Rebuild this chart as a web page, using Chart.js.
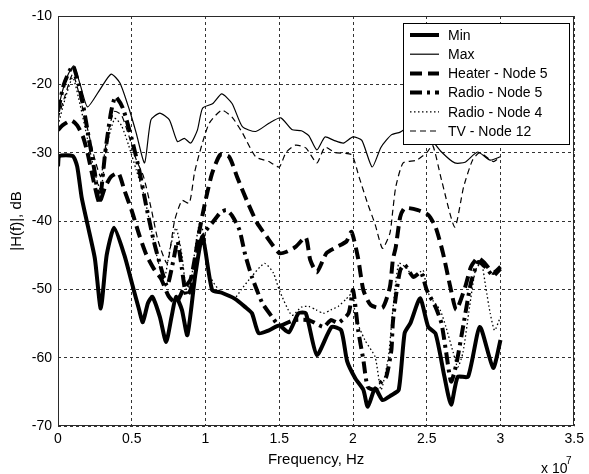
<!DOCTYPE html>
<html><head><meta charset="utf-8">
<script src="https://cdn.jsdelivr.net/npm/chart.js@4.4.1/dist/chart.umd.min.js"></script>
<style>html,body{margin:0;padding:0;background:#fff;}#wrap{width:589px;height:474px;}</style>
</head><body><div id="wrap"><canvas id="c" width="589" height="474"></canvas></div>
<script>
// Frequency in units of 10^7 Hz, magnitude in dB
const minF  = [0,0.01,0.1,0.13,0.16,0.2,0.25,0.29,0.33,0.38,0.45,0.5,0.55,0.575,0.61,0.64,0.69,0.733,0.77,0.8,0.84,0.877,0.93,0.98,1.045,1.11,1.2,1.27,1.315,1.36,1.43,1.5,1.565,1.63,1.68,1.755,1.855,1.92,1.96,2.015,2.07,2.1,2.15,2.2,2.26,2.31,2.35,2.39,2.455,2.51,2.56,2.62,2.665,2.71,2.78,2.86,2.95,3.0];
const minDb = [-32,-30.5,-30.5,-32,-36.5,-40.5,-45.5,-52.8,-45,-41,-45,-49,-53,-54.8,-52,-51.1,-54,-57.7,-54,-51.1,-53,-56.7,-48,-42.3,-50.1,-50.5,-51.4,-52.6,-53.5,-56.4,-56,-55.3,-56.3,-53.5,-53.5,-59.6,-55.5,-56,-60.5,-63,-64.7,-67.2,-64.5,-66.2,-65.5,-64.7,-56.4,-54.9,-51.3,-55.5,-56.5,-62.8,-66.9,-62.8,-62.8,-55.5,-61.5,-57.4];

const maxF  = [0,0.03,0.07,0.108,0.15,0.2,0.283,0.36,0.42,0.485,0.53,0.587,0.63,0.69,0.755,0.81,0.856,0.9,0.945,0.98,1.05,1.11,1.18,1.25,1.34,1.43,1.51,1.585,1.65,1.7,1.755,1.81,1.87,1.935,2.0,2.06,2.13,2.19,2.26,2.32,2.4,2.48,2.54,2.6,2.69,2.76,2.845,2.93,3.0];
const maxDb = [-23.8,-21,-18.5,-17.3,-20,-23.3,-20.8,-18.5,-19.8,-23.8,-27.1,-31.5,-25.2,-24.2,-25.2,-28.4,-27.9,-28.6,-26.7,-23.5,-22.8,-21.4,-22.8,-26.2,-26.9,-25.7,-24.9,-26.6,-26.8,-27.5,-29.6,-27.7,-28.2,-28.6,-27.7,-28.2,-32.1,-29.2,-27.4,-27,-26,-27,-28.3,-29.9,-31.5,-31.4,-29.9,-31.1,-30.6];

const heaterF  = [0,0.03,0.09,0.13,0.17,0.2,0.24,0.28,0.32,0.36,0.41,0.45,0.5,0.55,0.6,0.65,0.7,0.75,0.8,0.85,0.9,0.96,1.0,1.045,1.1,1.16,1.215,1.28,1.35,1.415,1.5,1.55,1.61,1.68,1.71,1.755,1.82,1.89,1.955,1.99,2.035,2.07,2.12,2.2,2.25,2.27,2.29,2.32,2.35,2.44,2.51,2.56,2.61,2.66,2.7,2.76,2.8,2.845,2.89,2.95,3.0];
const heaterDb = [-26.7,-26,-25.3,-26,-27.7,-30,-34,-37.3,-35,-33.5,-33,-35.5,-38.5,-42,-45,-47,-48.5,-51,-52,-50,-48.5,-41.3,-37,-33,-30.3,-30.6,-33.6,-37,-40.3,-42.3,-44.7,-44.5,-43.8,-42.4,-45.7,-47.5,-44.7,-43.8,-43,-41.6,-45.5,-50.1,-52.3,-52.7,-49.7,-45.7,-43.8,-39.4,-38.1,-38.4,-39.1,-40.9,-44.7,-49.7,-53,-49.7,-46.7,-45.4,-46.1,-47.6,-46.7];

const radio5F  = [0,0.04,0.1,0.14,0.17,0.21,0.25,0.28,0.32,0.36,0.39,0.44,0.5,0.55,0.6,0.65,0.7,0.74,0.78,0.81,0.84,0.87,0.9,0.95,1.0,1.045,1.1,1.14,1.18,1.23,1.27,1.315,1.385,1.45,1.5,1.6,1.7,1.8,1.85,1.9,1.97,2.0,2.035,2.07,2.1,2.15,2.185,2.225,2.26,2.27,2.29,2.32,2.35,2.41,2.46,2.5,2.56,2.6,2.63,2.665,2.7,2.75,2.8,2.85,2.9,2.95,3.0];
const radio5Db = [-24,-20,-17.3,-20,-23,-28,-33,-37.5,-30,-24,-21.8,-23.5,-28,-32.5,-38,-43,-47,-49.5,-46,-43,-47,-51,-50,-44,-41.5,-40.3,-38.8,-38.4,-39.2,-41.3,-45,-48.2,-52,-54,-55.3,-54.5,-54.5,-55.5,-54.5,-54.9,-53.5,-50.1,-56,-60.3,-64.3,-64.7,-63.7,-62.8,-58.9,-54.9,-51.1,-47.2,-46.4,-48.2,-47.5,-50.1,-52.6,-55,-59,-63.5,-61,-55,-49,-46,-46.8,-48,-47];

const radio4F  = [0,0.05,0.1,0.15,0.2,0.25,0.29,0.33,0.385,0.43,0.48,0.53,0.58,0.63,0.68,0.72,0.76,0.8,0.84,0.87,0.9,0.93,0.96,0.99,1.03,1.1,1.2,1.24,1.31,1.4,1.46,1.5,1.585,1.65,1.7,1.75,1.8,1.85,1.9,1.95,2.0,2.015,2.08,2.15,2.19,2.24,2.27,2.31,2.36,2.41,2.475,2.5,2.54,2.59,2.63,2.68,2.71,2.745,2.79,2.83,2.87,2.9,2.93,2.96,3.0];
const radio4Db = [-26,-22,-19,-23,-28,-33,-35.5,-29,-25,-26,-29,-32.5,-36,-41,-46,-48.5,-44,-41,-45,-50,-49,-44,-40.3,-42,-48,-50.3,-51.2,-50.1,-48.2,-46.2,-47.6,-50.1,-53.8,-52.6,-52.5,-53,-53.5,-53,-52.5,-51.5,-50.5,-54,-57.4,-59.9,-64.7,-59.9,-53,-46.2,-46.8,-48.2,-47.2,-50.1,-51.6,-53,-55.5,-59.3,-61.4,-59.3,-52.6,-47.2,-46.1,-49.7,-53.5,-56,-54];

const tvF  = [0,0.05,0.1,0.15,0.2,0.25,0.29,0.33,0.38,0.43,0.48,0.53,0.58,0.63,0.68,0.74,0.79,0.84,0.89,0.925,0.96,1.025,1.11,1.18,1.25,1.34,1.43,1.5,1.545,1.61,1.68,1.755,1.81,1.88,1.99,2.04,2.1,2.15,2.2,2.25,2.27,2.29,2.34,2.43,2.5,2.54,2.6,2.69,2.75,2.81,2.86,2.95,3.0];
const tvDb = [-25,-21.5,-18.5,-22,-26.5,-31,-33.5,-28,-24,-24.5,-27.5,-31,-33.5,-38,-43,-46.2,-40,-37,-37.4,-33,-30,-25.7,-23.8,-24.8,-27.1,-30.6,-31.3,-32.1,-30,-28.9,-29.3,-31.5,-29.2,-30,-30.3,-33.5,-37.5,-40.5,-44,-41.8,-38.4,-35,-31.5,-31.1,-30,-28.9,-34,-40.9,-35,-31.1,-30,-31.3,-30.6];

const seriesNames = ['Min','Max','Heater - Node 5','Radio - Node 5','Radio - Node 4','TV - Node 12'];
const xTickValues = [0,0.5,1,1.5,2,2.5,3,3.5];
const xTickLabels = ['0','0.5','1','1.5','2','2.5','3','3.5'];
const yTickValues = [-70,-60,-50,-40,-30,-20,-10];
const yTickLabels = ['-70','-60','-50','-40','-30','-20','-10'];
const xAxisTitle = 'Frequency, Hz';
const yAxisTitle = '|H(f)|, dB';
const xExpBase = 'x 10';
const xExpPow = '7';

function pts(xs, ys){ return xs.map((x,i)=>({x:x, y:ys[i]})); }

const styles = [
  {w:4,   dash:[]},
  {w:1.2, dash:[]},
  {w:4,   dash:[12,6]},
  {w:4,   dash:[12,5,3,5]},
  {w:1.3, dash:[1.5,2.5]},
  {w:1.2, dash:[6,4]}
];
const dataSets = [pts(minF,minDb), pts(maxF,maxDb), pts(heaterF,heaterDb), pts(radio5F,radio5Db), pts(radio4F,radio4Db), pts(tvF,tvDb)];

const FONT = '"Liberation Sans", Arial, sans-serif';

const decor = {
  id: 'decor',
  afterDraw(chart){
    const ctx = chart.ctx, a = chart.chartArea;
    ctx.save();
    ctx.strokeStyle = '#2a2a2a'; ctx.lineWidth = 1; ctx.setLineDash([]);
    ctx.strokeRect(Math.round(a.left)+0.5, Math.round(a.top)+0.5, Math.round(a.right-a.left)-1, Math.round(a.bottom-a.top)-1);
    const lx = 403, ly = 23, lw = 166, lh = 121;
    ctx.fillStyle = '#fff'; ctx.fillRect(lx, ly, lw, lh);
    ctx.strokeStyle = '#000'; ctx.strokeRect(lx+0.5, ly+0.5, lw, lh);
    ctx.font = '14px ' + FONT; ctx.textBaseline = 'middle'; ctx.textAlign = 'left';
    chart.data.datasets.forEach((ds, i) => {
      const y = 35 + i*19.2;
      ctx.strokeStyle = '#000'; ctx.lineWidth = ds.borderWidth; ctx.setLineDash(ds.borderDash || []);
      ctx.lineCap = 'butt';
      ctx.beginPath(); ctx.moveTo(410, y); ctx.lineTo(439, y); ctx.stroke();
      ctx.fillStyle = '#000';
      ctx.fillText(ds.label, 448, y + 1);
    });
    ctx.setLineDash([]);
    ctx.fillStyle = '#000'; ctx.textBaseline = 'alphabetic';
    ctx.font = '14px ' + FONT; ctx.fillText(xExpBase, 541, 473);
    ctx.font = '10px ' + FONT; ctx.fillText(xExpPow, 566, 464);
    ctx.restore();
  }
};

new Chart(document.getElementById('c'), {
  type: 'line',
  data: {
    datasets: dataSets.map((d,i)=>({
      label: seriesNames[i], data: d, borderColor: '#000', backgroundColor: '#000',
      borderWidth: styles[i].w, borderDash: styles[i].dash, pointRadius: 0, tension: 0.2,
      fill: false, borderCapStyle: 'butt', borderJoinStyle: 'round'
    }))
  },
  options: {
    responsive: false, animation: false, devicePixelRatio: 1,
    layout: { padding: { top: 16, right: 12, left: 0, bottom: 0 } },
    plugins: { legend: { display: false }, tooltip: { enabled: false } },
    scales: {
      x: {
        type: 'linear', min: 0, max: 3.5,
        afterBuildTicks: s => { s.ticks = xTickValues.map(v=>({value:v})); },
        afterFit: s => { s.height = 48; },
        ticks: { callback: (v) => xTickLabels[xTickValues.indexOf(v)], color: '#000', font: { family: FONT, size: 14 }, padding: 5, maxRotation: 0, autoSkip: false },
        grid: { color: '#333', lineWidth: 1, drawTicks: false, tickLength: 0 },
        border: { display: false, dash: [3,3] },
        title: { display: true, text: xAxisTitle, color: '#000', font: { family: FONT, size: 15 }, padding: { top: 0, bottom: 5 } }
      },
      y: {
        type: 'linear', min: -70, max: -10,
        afterBuildTicks: s => { s.ticks = yTickValues.map(v=>({value:v})); },
        afterFit: s => { s.width = 58; },
        ticks: { callback: (v) => yTickLabels[yTickValues.indexOf(v)], color: '#000', font: { family: FONT, size: 14 }, padding: 6 },
        grid: { color: '#333', lineWidth: 1, drawTicks: false, tickLength: 0 },
        border: { display: false, dash: [3,3] },
        title: { display: true, text: yAxisTitle, color: '#000', font: { family: FONT, size: 15 }, padding: { top: 8, bottom: 0 } }
      }
    }
  },
  plugins: [decor]
});
</script></body></html>
